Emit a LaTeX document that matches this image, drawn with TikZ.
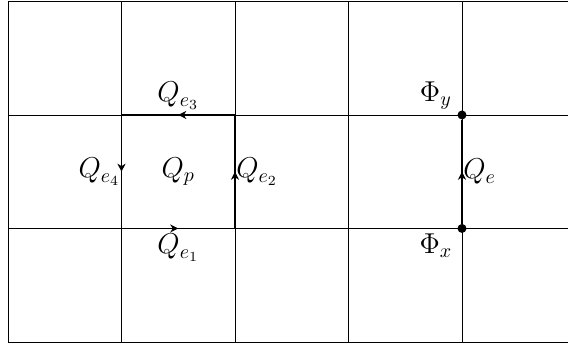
\documentclass[tikz,border=0pt]{standalone}
\usetikzlibrary{decorations.markings,arrows.meta}
\begin{document}
\begin{tikzpicture}[
  font=\Large,
  gridline/.style={line width=0.4pt},
  edgeline/.style={line width=0.9pt, postaction={decorate},
    decoration={markings, mark=at position 0.5 with {\arrow{Stealth[length=4pt,width=4pt,inset=1.2pt]}}}},
  dot/.style={circle, fill, inner sep=0pt, minimum size=4.5pt},
  lab/.style={inner sep=0.5pt}
]
\useasboundingbox (-0.141,-0.044) rectangle (9.868,6.026);
% grid
\foreach \x in {0,2,4,6,8} \draw[gridline] (\x,0) -- (\x,6);
\foreach \y in {0,2,4,6} \draw[gridline] (0,\y) -- (9.868,\y);
% cell p
\coordinate (a) at (2,2);
\coordinate (b) at (4,2);
\coordinate (c) at (4,4);
\coordinate (d) at (2,4);
\draw[edgeline] (a) -- (b);
\draw[edgeline] (b) -- (c);
\draw[edgeline] (c) -- (d);
\draw[edgeline] (d) -- (a);
\node[lab] (qp) at (3,3) {$Q_p$};
\node[lab] (qe1) at (3,1.66) {$Q_{e_1}$};
\node[lab] (qe3) at (3,4.34) {$Q_{e_3}$};
\node[lab, anchor=west] (qe2) at (4,3) {$Q_{e_2}$};
\node[lab, anchor=east] (qe4) at (2,3) {$Q_{e_4}$};
% edge e
\node[dot] (px) at (8,2) {};
\node[dot] (py) at (8,4) {};
\draw[edgeline] (px) -- (py);
\node[lab] (phix) at (7.54,1.7) {$\Phi_x$};
\node[lab] (phiy) at (7.54,4.34) {$\Phi_y$};
\node[lab, anchor=west] (qe) at (8,3) {$Q_e$};
\end{tikzpicture}
\end{document}
